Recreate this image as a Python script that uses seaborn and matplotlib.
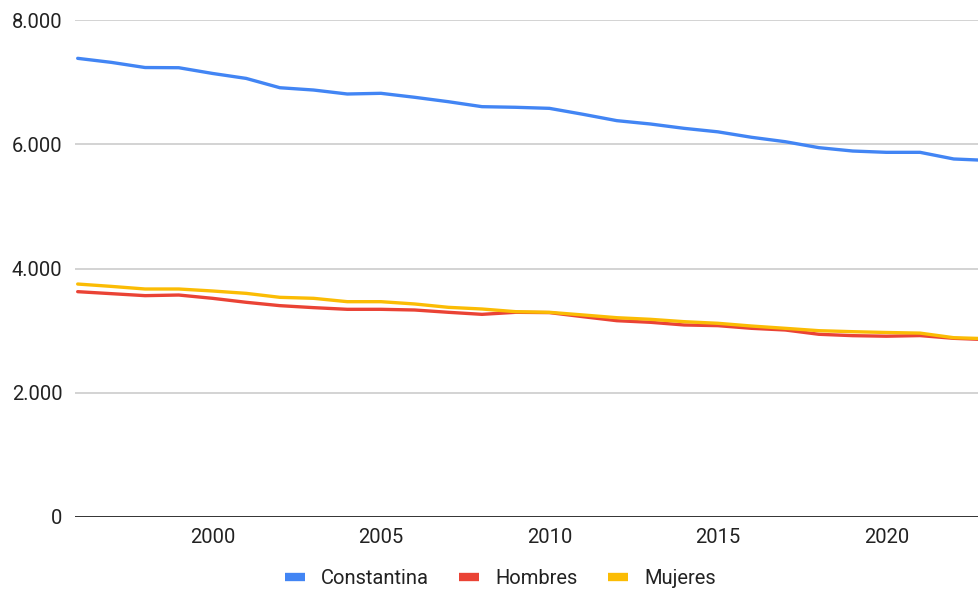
import pandas as pd
import matplotlib.pyplot as plt
import seaborn as sns
from matplotlib.ticker import FuncFormatter

# population series
years = list(range(1996, 2024))
constantina = [7383, 7318, 7235, 7232, 7140, 7060, 6910, 6873, 6809, 6820,
               6756, 6685, 6605, 6595, 6578, 6482, 6380, 6326, 6256, 6200,
               6112, 6041, 5945, 5891, 5870, 5870, 5763, 5740]
hombres = [3627, 3595, 3563, 3573, 3520, 3456, 3402, 3370, 3343, 3343,
           3332, 3295, 3262, 3295, 3290, 3224, 3160, 3134, 3091, 3080,
           3037, 3010, 2941, 2919, 2910, 2920, 2876, 2855]
mujeres = [3750, 3712, 3670, 3670, 3638, 3600, 3536, 3520, 3466, 3466,
           3429, 3375, 3348, 3305, 3295, 3252, 3208, 3182, 3144, 3118,
           3074, 3037, 2999, 2983, 2970, 2960, 2886, 2870]

series_names = ["Constantina", "Hombres", "Mujeres"]
colors = ["#4285F4", "#EA4335", "#FBBC04"]

if __name__ == "__main__":
    data = pd.DataFrame({"Año": years, "Constantina": constantina,
                         "Hombres": hombres, "Mujeres": mujeres})
    long = data.melt(id_vars="Año", var_name="Serie", value_name="Habitantes")

    sns.set_theme(style="white")
    plt.rcParams["font.family"] = ["Roboto", "DejaVu Sans"]

    fig = plt.figure(figsize=(9.79, 5.92), dpi=100)
    ax = fig.add_axes([0.0766, 0.1267, 0.9234, 0.8395])

    sns.lineplot(data=long, x="Año", y="Habitantes", hue="Serie",
                 hue_order=series_names, palette=colors, linewidth=2.4, ax=ax)

    ax.set_xlim(1995.92, 2022.75)
    ax.set_ylim(0, 8000)
    ax.set_yticks([0, 2000, 4000, 6000, 8000])
    ax.set_xticks([2000, 2005, 2010, 2015, 2020])
    ax.yaxis.set_major_formatter(FuncFormatter(lambda v, p: f"{v:,.0f}".replace(",", ".")))

    # gridlines like google sheets
    for v in [2000, 4000, 6000, 8000]:
        ax.axhline(v, color="#cccccc", linewidth=1.2, zorder=0)
    ax.axhline(0, color="#333333", linewidth=1.4, zorder=1)

    for s in ax.spines.values():
        s.set_visible(False)
    ax.tick_params(axis="both", length=0, labelsize=14.5, colors="#222222")
    ax.tick_params(axis="x", pad=8)
    ax.tick_params(axis="y", pad=9)
    ax.set_xlabel("")
    ax.set_ylabel("")

    handles, labels = ax.get_legend_handles_labels()
    for h in handles:
        h.set_linewidth(6)
        h.set_solid_capstyle("butt")
    ax.legend(handles, labels, loc="center", bbox_to_anchor=(0.511, 0.022),
              bbox_transform=fig.transFigure, ncol=3, frameon=False,
              fontsize=14.5, handlelength=1.0, handletextpad=0.8,
              columnspacing=1.5, labelcolor="#222222")

    fig.savefig("out.png", dpi=100)
